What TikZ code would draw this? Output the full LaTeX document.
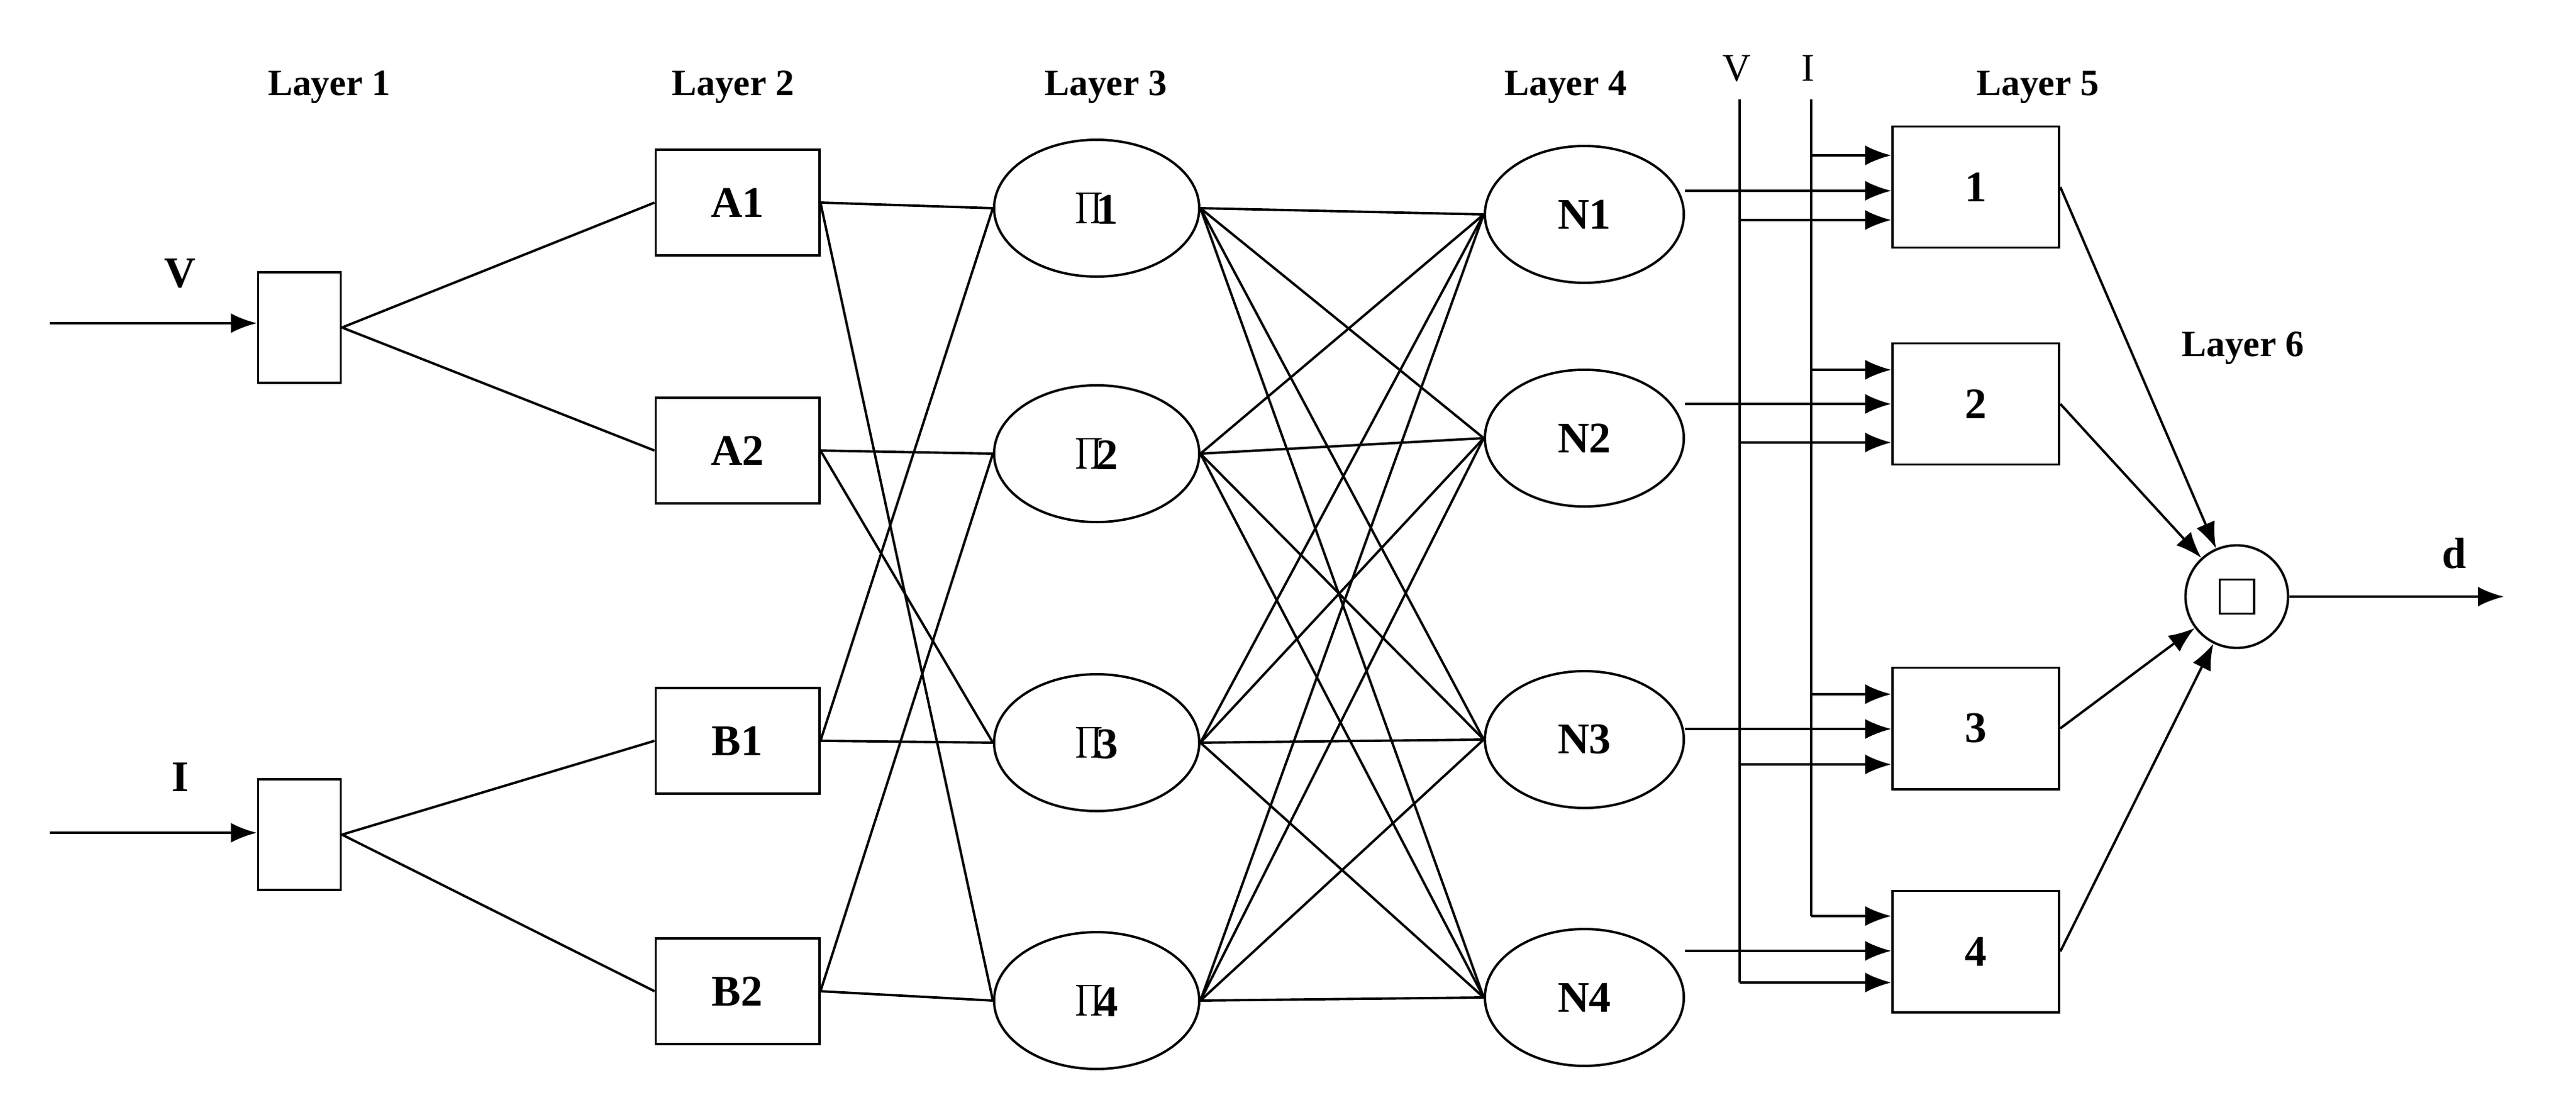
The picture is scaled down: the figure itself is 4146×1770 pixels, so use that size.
\documentclass[tikz,border=0pt]{standalone}
\usepackage{fontspec}
\setmainfont{Liberation Serif}
\usetikzlibrary{arrows.meta,shapes.geometric}
\begin{document}
\begin{tikzpicture}[x=0.01cm,y=-0.01cm,line width=1.1pt,
  box/.style={draw,minimum width=2.63cm,minimum height=1.7cm,inner sep=0pt,font=\fontsize{20}{24}\selectfont\bfseries},
  sbox/.style={draw,minimum width=1.33cm,minimum height=1.78cm,inner sep=0pt},
  ell/.style={draw,ellipse,minimum width=3.3cm,minimum height=2.2cm,inner sep=0pt,font=\fontsize{20}{24}\selectfont\bfseries},
  fbox/.style={draw,minimum width=2.68cm,minimum height=1.95cm,inner sep=0pt,font=\fontsize{20}{24}\selectfont\bfseries},
  ttl/.style={font=\fontsize{17}{20}\selectfont\bfseries},
  big/.style={font=\fontsize{20}{24}\selectfont\bfseries},
  arr/.style={-{Latex[length=0.42cm,width=0.32cm]}}]
\useasboundingbox (0,0) rectangle (4146,1770);
% titles
\node[ttl] at (530,140) {Layer 1};
\node[ttl] at (1180,140) {Layer 2};
\node[ttl] at (1780,140) {Layer 3};
\node[ttl] at (2520,140) {Layer 4};
\node[ttl] at (3280,140) {Layer 5};
\node[ttl] at (3610,560) {Layer 6};
\node[font=\fontsize{18}{20}\selectfont] at (2795,110) {V};
\node[font=\fontsize{18}{20}\selectfont] at (2910,110) {I};
% layer 1
\node[sbox] (L1) at (482,527) {};
\node[sbox] (L2) at (482,1343) {};
\coordinate (vin) at (80,520);
\coordinate (iin) at (80,1340);
\draw[arr] (vin) -- (L1.west|-vin);
\draw[arr] (iin) -- (L2.west|-iin);
\node[big] at (290,440) {V};
\node[big] at (290,1250) {I};
% layer 2
\node[box] (A1) at (1187,326) {A1};
\node[box] (A2) at (1187,725) {A2};
\node[box] (B1) at (1187,1192) {B1};
\node[box] (B2) at (1187,1595) {B2};
\draw (L1.east) -- (A1.west); \draw (L1.east) -- (A2.west);
\draw (L2.east) -- (B1.west); \draw (L2.east) -- (B2.west);
% layer 3
\foreach \i/\y in {1/335,2/730,3/1195,4/1610}{
  \node[ell] (P\i) at (1765,\y) {\raisebox{0.1em}{$\displaystyle\prod$}\hspace{-0.15em}\i};
}
\draw (A1.east) -- (P1.west); \draw (A1.east) -- (P4.west);
\draw (A2.east) -- (P2.west); \draw (A2.east) -- (P3.west);
\draw (B1.east) -- (P1.west); \draw (B1.east) -- (P3.west);
\draw (B2.east) -- (P2.west); \draw (B2.east) -- (P4.west);
% layer 4
\foreach \i/\y in {1/345,2/705,3/1190,4/1605}{
  \node[ell,minimum width=3.2cm] (N\i) at (2550,\y) {N\i};
}
\foreach \a in {1,...,4}{\foreach \b in {1,...,4}{\draw (P\a.east) -- (N\b.west);}}
% layer 5
\node[fbox] (F1) at (3180,301) {1};
\node[fbox] (F2) at (3180,650) {2};
\node[fbox] (F3) at (3180,1172) {3};
\node[fbox] (F4) at (3180,1531) {4};
\coordinate (Vt) at (2800,160); \coordinate (Vb) at (2800,1581);
\coordinate (It) at (2915,160); \coordinate (Ib) at (2915,1474);
\draw (Vt) -- (Vb); \draw (It) -- (Ib);
\foreach \i/\ya/\yn/\yv in {1/250/307/354,2/595/650/712,3/1117/1173/1230,4/1474/1530/1581}{
  \coordinate (ia\i) at (2915,\ya);
  \coordinate (va\i) at (2800,\yv);
  \draw[arr] (ia\i) -- (F\i.west|-ia\i);
  \draw[arr] (N\i.east|-0,\yn) -- (F\i.west|-0,\yn);
  \draw[arr] (va\i) -- (F\i.west|-va\i);
}
% layer 6
\node[draw,circle,minimum size=1.65cm,inner sep=0pt] (S) at (3600,960) {};
\node[draw,minimum size=0.55cm,inner sep=0pt] (Sq) at (S.center) {};
\foreach \i in {1,...,4}{\draw[arr] (F\i.east) -- (S);}
\coordinate (dout) at (4030,960);
\draw[arr] (S.east) -- (dout);
\node[big] at (3950,890) {d};
\end{tikzpicture}
\end{document}
